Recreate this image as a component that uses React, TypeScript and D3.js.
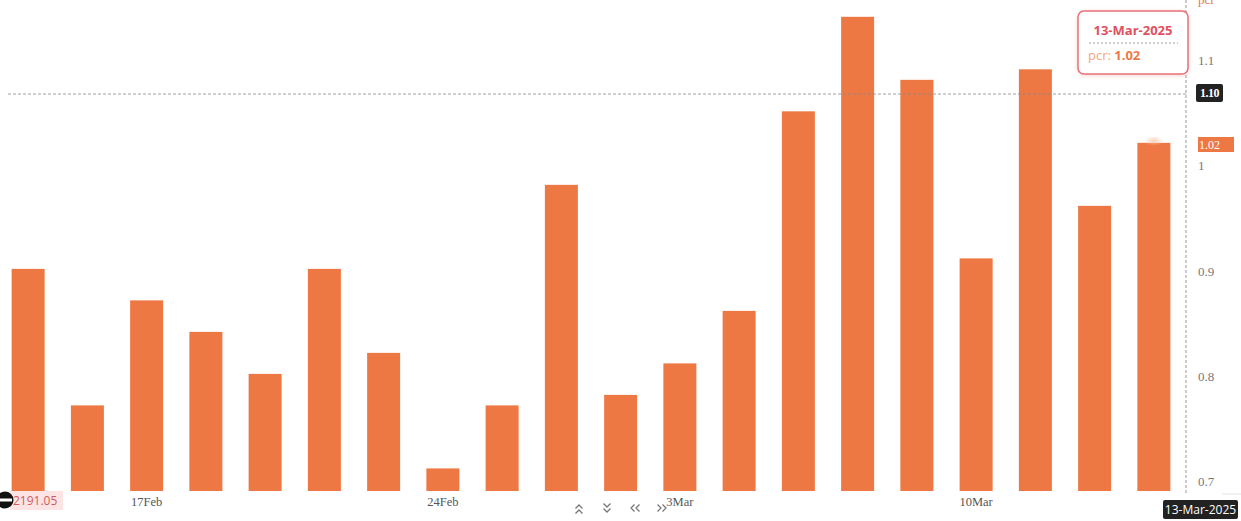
import React from "react";
import * as d3 from "d3";

const dates = [
  "13-Feb-2025", "14-Feb-2025", "17-Feb-2025", "18-Feb-2025", "19-Feb-2025",
  "20-Feb-2025", "21-Feb-2025", "24-Feb-2025", "25-Feb-2025", "27-Feb-2025",
  "28-Feb-2025", "03-Mar-2025", "04-Mar-2025", "05-Mar-2025", "06-Mar-2025",
  "07-Mar-2025", "10-Mar-2025", "11-Mar-2025", "12-Mar-2025", "13-Mar-2025",
];
const pcr = [0.9, 0.77, 0.87, 0.84, 0.8, 0.9, 0.82, 0.71, 0.77, 0.98, 0.78, 0.81, 0.86, 1.05, 1.14, 1.08, 0.91, 1.09, 0.96, 1.02];
const xTickLabels: [string, string][] = [
  ["17-Feb-2025", "17Feb"],
  ["24-Feb-2025", "24Feb"],
  ["03-Mar-2025", "3Mar"],
  ["10-Mar-2025", "10Mar"],
];
const yTicks = [0.7, 0.8, 0.9, 1, 1.1];

const W = 1241;
const H = 521;
const axisX = 1186;
const plotBottom = 491;
const BAR = "#EE7844";

export default function App() {
  const x = d3.scaleBand<string>().domain(dates).range([-2, 1184]).paddingInner(0.443).paddingOuter(0.23);
  const y = d3.scaleLinear().domain([0.6885, 1.156]).range([plotBottom, 0]);
  const yLab = d3.scaleLinear().domain([0.6905, 1.158]).range([plotBottom, 0]);
  const bw = x.bandwidth();
  const last = dates[dates.length - 1];
  const lastVal = pcr[pcr.length - 1];
  const crossY = 94;
  const chevron = (cx: number, cy: number, dir: "up" | "down" | "left" | "right") => {
    const s = 3.5;
    const pts: string[] = [];
    for (const off of [-3, 2]) {
      if (dir === "up") pts.push(`M${cx - s},${cy + off + s} L${cx},${cy + off} L${cx + s},${cy + off + s}`);
      if (dir === "down") pts.push(`M${cx - s},${cy + off - s + 3} L${cx},${cy + off + 3} L${cx + s},${cy + off - s + 3}`);
      if (dir === "left") pts.push(`M${cx + off + s},${cy - s} L${cx + off},${cy} L${cx + off + s},${cy + s}`);
      if (dir === "right") pts.push(`M${cx + off - s + 2},${cy - s} L${cx + off + 2},${cy} L${cx + off - s + 2},${cy + s}`);
    }
    return <path d={pts.join(" ")} fill="none" stroke="#777" strokeWidth={1.3} />;
  };
  return (
    <svg width={W} height={H} style={{ position: "absolute", left: 0, top: 0, background: "#fff" }}>
      <defs>
        <filter id="sh" x="-20%" y="-20%" width="140%" height="140%">
          <feDropShadow dx="0" dy="1" stdDeviation="2" floodColor="#e88" floodOpacity="0.35" />
        </filter>
        <radialGradient id="glow">
          <stop offset="0%" stopColor="#F6C9A8" stopOpacity="0.8" />
          <stop offset="100%" stopColor="#F6C9A8" stopOpacity="0" />
        </radialGradient>
      </defs>
      {dates.map((d, i) => (
        <rect key={d} x={x(d)} y={y(pcr[i])} width={bw} height={plotBottom - y(pcr[i])} fill={BAR} />
      ))}
      <ellipse cx={(x(last) as number) + bw / 2} cy={y(lastVal) - 2} rx={10} ry={5} fill="url(#glow)" />
      <line x1={axisX} x2={axisX} y1={0} y2={plotBottom + 2} stroke="#999" strokeDasharray="3,2" strokeWidth={1} />
      <line x1={1222} x2={W} y1={494} y2={494} stroke="#e4e4e4" />
      {yTicks.map((t) => (
        <text key={t} x={1198} y={yLab(t)} dy="0.35em" fontSize={13} fill="#777" fontFamily="'Liberation Serif', serif">
          {d3.format("~g")(t)}
        </text>
      ))}
      <text x={1198} y={4} fontSize={13} fill="#E07A52" fontFamily="'Liberation Serif', serif">pcr</text>
      {xTickLabels.map(([d, l]) => (
        <text key={d} x={(x(d) as number) + bw / 2} y={502} dy="0.35em" textAnchor="middle" fontSize={12.5} fill="#555" fontFamily="'Liberation Serif', serif">
          {l}
        </text>
      ))}
      <line x1={8} x2={axisX} y1={crossY} y2={crossY} stroke="#888" strokeDasharray="3,2" strokeWidth={0.8} />
      <rect x={1196} y={84} width={27} height={18} rx={2} fill="#222" />
      <text x={1209.5} y={93} dy="0.35em" textAnchor="middle" fontSize={12} fill="#fff" fontFamily="'Liberation Serif', serif" fontWeight={700} letterSpacing={-0.5}>1.10</text>
      <rect x={1198} y={137} width={36} height={15} fill={BAR} />
      <text x={1199} y={144.5} dy="0.35em" fontSize={12} fill="#fff" fontFamily="'Liberation Serif', serif">{d3.format(".2f")(lastVal)}</text>
      <g filter="url(#sh)">
        <rect x={1078} y={11} width={110} height={63} rx={6} fill="#fff" stroke="#E8707A" strokeWidth={1.5} />
      </g>
      <text x={1133} y={30} dy="0.35em" textAnchor="middle" fontSize={13} fontWeight={700} fill="#E0505F" fontFamily="'Open Sans', sans-serif">{last}</text>
      <line x1={1089} x2={1178} y1={43} y2={43} stroke="#888" strokeDasharray="2,2" strokeWidth={0.8} />
      <text x={1088} y={55} dy="0.35em" fontSize={13} fontFamily="'Open Sans', sans-serif">
        <tspan fill="#F3A583">pcr: </tspan>
        <tspan fill={BAR} fontWeight={700}>{d3.format(".2f")(lastVal)}</tspan>
      </text>
      <rect x={1163} y={500} width={75} height={19} rx={2} fill="#222" />
      <text x={1200.5} y={509.5} dy="0.35em" textAnchor="middle" fontSize={12} fill="#fff" fontFamily="'Open Sans', sans-serif">{last}</text>
      <rect x={10} y={491} width={53} height={19} fill="#FDE4E4" />
      <text x={13} y={501} dy="0.35em" fontSize={12} fill="#D05A5A" fontFamily="'Open Sans', sans-serif">2191.05</text>
      <circle cx={5} cy={500} r={8.5} fill="#111" />
      <rect x={-2} y={498.5} width={14} height={3} fill="#fff" />
      {chevron(579, 508, "up")}
      {chevron(607, 507, "down")}
      {chevron(634, 508, "left")}
      {chevron(662, 508, "right")}
    </svg>
  );
}
